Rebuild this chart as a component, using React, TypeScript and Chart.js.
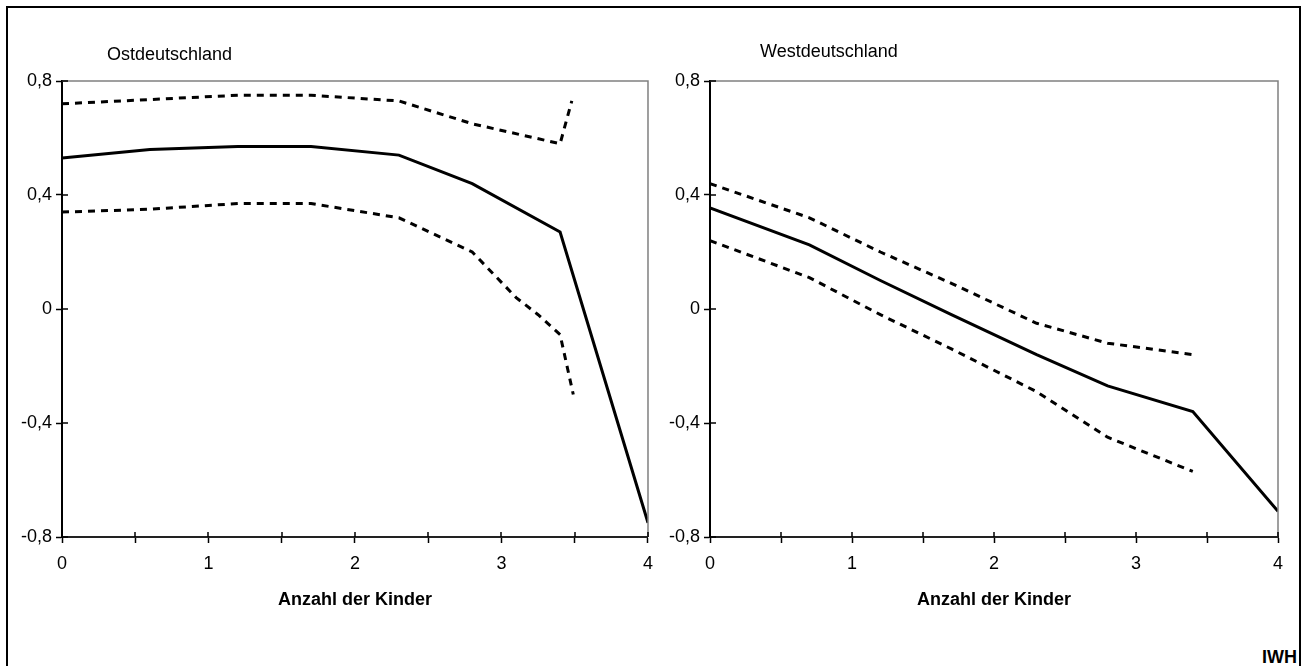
import React, { useEffect, useRef } from 'react';
import { Chart, registerables } from 'chart.js';

Chart.register(...registerables);

// ---------------- Data ----------------
// Ostdeutschland
const eastX = [0, 0.6, 1.2, 1.7, 2.3, 2.8, 3.4, 4];
const eastMain = [0.53, 0.56, 0.57, 0.57, 0.54, 0.44, 0.27, -0.75];
const eastUpperX = [0, 0.6, 1.2, 1.7, 2.3, 2.8, 3.4, 3.48];
const eastUpper = [0.72, 0.735, 0.75, 0.75, 0.73, 0.65, 0.58, 0.73];
const eastLowerX = [0, 0.6, 1.2, 1.7, 2.3, 2.8, 3.1, 3.25, 3.4, 3.49];
const eastLower = [0.34, 0.35, 0.37, 0.37, 0.32, 0.2, 0.04, -0.02, -0.09, -0.3];

// Westdeutschland
const westX = [0, 0.7, 1.2, 1.7, 2.3, 2.8, 3.4, 4];
const westMain = [0.355, 0.225, 0.1, -0.02, -0.16, -0.27, -0.36, -0.71];
const westBandX = [0, 0.7, 1.2, 1.7, 2.3, 2.8, 3.4];
const westUpper = [0.44, 0.32, 0.2, 0.09, -0.05, -0.12, -0.16];
const westLower = [0.24, 0.11, -0.02, -0.14, -0.29, -0.45, -0.57];

// Axes
const xMin = 0;
const xMax = 4;
const xStep = 0.5;
const yMin = -0.8;
const yMax = 0.8;
const yStep = 0.4;
const xAxisTitle = 'Anzahl der Kinder';
const titleEast = 'Ostdeutschland';
const titleWest = 'Westdeutschland';
const sourceLabel = 'IWH';

const FONT = "'Liberation Sans', Arial, sans-serif";

const zip = (xs: number[], ys: number[]) => xs.map((x, i) => ({ x, y: ys[i] }));

const framePlugin = {
  id: 'frameTicks',
  afterDraw(chart: any) {
    const { ctx, chartArea: a, scales } = chart;
    ctx.save();
    ctx.strokeStyle = '#808080';
    ctx.lineWidth = 1.5;
    ctx.beginPath();
    ctx.moveTo(a.left, a.top);
    ctx.lineTo(a.right, a.top);
    ctx.lineTo(a.right, a.bottom);
    ctx.stroke();
    ctx.strokeStyle = '#000';
    ctx.lineWidth = 1.5;
    ctx.beginPath();
    scales.x.ticks.forEach((t: any) => {
      const px = Math.round(scales.x.getPixelForValue(t.value));
      ctx.moveTo(px, a.bottom);
      ctx.lineTo(px, a.bottom - 5);
    });
    scales.y.ticks.forEach((t: any) => {
      const py = Math.round(scales.y.getPixelForValue(t.value));
      ctx.moveTo(a.left, py);
      ctx.lineTo(a.left + 6, py);
    });
    ctx.stroke();
    ctx.restore();
  },
};

function makeConfig(
  main: { x: number; y: number }[],
  upper: { x: number; y: number }[],
  lower: { x: number; y: number }[],
  yWidth: number,
  padRight: number
): any {
  const lineBase = {
    borderColor: '#000',
    borderWidth: 3,
    pointRadius: 0,
    tension: 0,
    fill: false,
  };
  return {
    type: 'line',
    data: {
      datasets: [
        { ...lineBase, label: 'main', data: main },
        { ...lineBase, label: 'upper', data: upper, borderDash: [7, 6] },
        { ...lineBase, label: 'lower', data: lower, borderDash: [7, 6] },
      ],
    },
    options: {
      animation: false,
      responsive: false,
      layout: { padding: { top: 81, right: padRight, left: 0, bottom: 0 } },
      plugins: { legend: { display: false }, tooltip: { enabled: false }, title: { display: false } },
      scales: {
        x: {
          type: 'linear',
          min: xMin,
          max: xMax,
          afterFit: (s: any) => {
            s.height = 93;
          },
          ticks: {
            stepSize: xStep,
            autoSkip: false,
            maxRotation: 0,
            padding: 10,
            color: '#000',
            font: { family: FONT, size: 18 },
            callback: (v: any) => (Math.abs(v - Math.round(v)) < 1e-9 ? String(Math.round(v)) : ''),
          },
          grid: {
            drawOnChartArea: false,
            drawTicks: true,
            tickLength: 6,
            tickColor: '#000',
            tickWidth: 1.5,
            color: '#000',
          },
          border: { display: true, color: '#222', width: 2 },
          title: {
            display: true,
            text: xAxisTitle,
            color: '#000',
            font: { family: FONT, size: 18, weight: 'bold' },
            padding: { top: 0, bottom: 19 },
          },
        },
        y: {
          type: 'linear',
          min: yMin,
          max: yMax,
          afterFit: (s: any) => {
            s.width = yWidth;
          },
          ticks: {
            stepSize: yStep,
            padding: 4,
            color: '#000',
            font: { family: FONT, size: 18 },
            callback: (v: any) => (Math.abs(v) < 1e-9 ? '0' : Number(v).toFixed(1).replace('.', ',')),
          },
          grid: {
            drawOnChartArea: false,
            drawTicks: true,
            tickLength: 6,
            tickColor: '#000',
            tickWidth: 1.5,
            color: '#000',
          },
          border: { display: true, color: '#000', width: 2 },
        },
      },
    },
    plugins: [framePlugin],
  };
}

export default function App() {
  const leftRef = useRef<HTMLCanvasElement | null>(null);
  const rightRef = useRef<HTMLCanvasElement | null>(null);

  useEffect(() => {
    document.body.style.margin = '0';
    const left = new Chart(
      leftRef.current as HTMLCanvasElement,
      makeConfig(zip(eastX, eastMain), zip(eastUpperX, eastUpper), zip(eastLowerX, eastLower), 62, 15)
    );
    const right = new Chart(
      rightRef.current as HTMLCanvasElement,
      makeConfig(zip(westX, westMain), zip(westBandX, westUpper), zip(westBandX, westLower), 55, 25)
    );
    return () => {
      left.destroy();
      right.destroy();
    };
  }, []);

  const textStyle: React.CSSProperties = {
    position: 'absolute',
    fontFamily: FONT,
    fontSize: 18,
    lineHeight: '18px',
    color: '#000',
    whiteSpace: 'nowrap',
  };

  return (
    <div style={{ position: 'relative', width: 1303, height: 666, overflow: 'hidden', background: '#fff' }}>
      <div
        style={{
          position: 'absolute',
          left: 6,
          top: 6,
          width: 1291,
          height: 680,
          border: '2px solid #000',
        }}
      />
      <canvas
        ref={leftRef}
        width={663}
        height={630}
        style={{ position: 'absolute', left: 0, top: 0, width: 663, height: 630 }}
      />
      <canvas
        ref={rightRef}
        width={648}
        height={630}
        style={{ position: 'absolute', left: 655, top: 0, width: 648, height: 630 }}
      />
      <div style={{ ...textStyle, left: 107, top: 45 }}>{titleEast}</div>
      <div style={{ ...textStyle, left: 760, top: 42 }}>{titleWest}</div>
      <div style={{ ...textStyle, right: 6, top: 648, fontWeight: 'bold' }}>{sourceLabel}</div>
    </div>
  );
}
